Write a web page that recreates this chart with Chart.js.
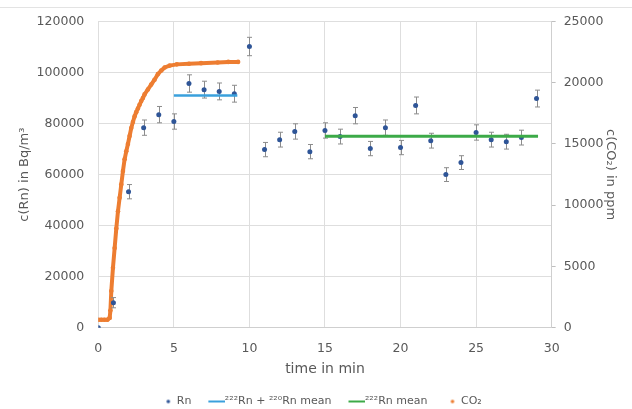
<!DOCTYPE html>
<html>
<head>
<meta charset="utf-8">
<script src="https://cdn.jsdelivr.net/npm/chart.js@4/dist/chart.umd.min.js"></script>
<style>
  body { margin: 0; background: #fff; }
  #wrap { position: relative; width: 632px; height: 409px; }
  #frame { position: absolute; left: 0; right: 0; top: 7px; height: 1px; background: #e3e3e3; }
</style>
</head>
<body>
<div id="wrap">
  <div id="frame"></div>
  <canvas id="radonChart" width="632" height="409"></canvas>
</div>
<script>
// Rn Messwerte (Bq/m3) mit Fehlerbalken
const rnTime = [0, 1, 2, 3, 4, 5, 6, 7, 8, 9, 10, 11, 12, 13, 14, 15, 16, 17, 18, 19, 20, 21, 22, 23, 24, 25, 26, 27, 28, 29];
const rnValue = [0, 9800, 53300, 78400, 83500, 80800, 95700, 93300, 92600, 91700, 110200, 69800, 73700, 76900, 69000, 77300, 74900, 83100, 70200, 78400, 70600, 87100, 73300, 60000, 64700, 76500, 73700, 72900, 74500, 89800];
const rnError = [0, 2000, 2800, 3000, 3200, 3000, 3400, 3300, 3300, 3300, 3600, 2800, 2900, 3000, 2800, 3000, 2900, 3200, 2800, 3000, 2800, 3300, 2900, 2700, 2700, 3000, 2900, 2900, 2900, 3300];

// Mittelwerte
const meanBothTime = [5, 9.2];
const meanBothValue = [91000, 91000];
const mean222Time = [15, 29.1];
const mean222Value = [75000, 75000];

// CO2 (ppm), rechte Achse
const co2Time = [0, 0.2, 0.4, 0.6, 0.75, 0.8, 0.86, 0.97, 1.08, 1.19, 1.3, 1.41, 1.52, 1.63, 1.74, 1.85, 1.96, 2.07, 2.18, 2.29, 2.4, 2.51, 2.62, 2.73, 2.84, 2.95, 3.06, 3.28, 3.5, 3.72, 3.94, 4.17, 4.39, 4.72, 5.2, 6.0, 6.8, 7.9, 8.6, 9.25];
const co2Value = [650, 650, 650, 650, 800, 1400, 3000, 4900, 6500, 8100, 9500, 10600, 11700, 12800, 13750, 14400, 15000, 15650, 16300, 16800, 17250, 17600, 17900, 18200, 18500, 18750, 19050, 19450, 19850, 20250, 20700, 21000, 21250, 21400, 21500, 21550, 21600, 21650, 21700, 21700];

// Achsen
const xTicks = [0, 5, 10, 15, 20, 25, 30];
const rnTicks = [0, 20000, 40000, 60000, 80000, 100000, 120000];
const co2Ticks = [0, 5000, 10000, 15000, 20000, 25000];

const seriesLabels = ["Rn", "\u00b2\u00b2\u00b2Rn + \u00b2\u00b2\u2070Rn mean", "\u00b2\u00b2\u00b2Rn mean", "CO\u2082"];

const BLUE_DOT = "#2f5597";
const ORANGE = "#ed7d31";
const CYAN = "#3aa0dc";
const GREEN = "#3caa48";
const TEXT = "#595959";
const GRID = "#dedede";
const FONT = "DejaVu Sans";

function zip(xs, ys) {
  return xs.map((x, i) => ({ x, y: ys[i] }));
}

// kleine Symbole fuer die Legende (Punkt rechts im Kasten, Linie nah am Text)
function dotIcon(color, r) {
  const c = document.createElement("canvas");
  c.width = 18; c.height = 8;
  const g = c.getContext("2d");
  g.fillStyle = color;
  g.beginPath(); g.arc(15, 4, r, 0, Math.PI * 2); g.fill();
  return c;
}
function lineIcon(color) {
  const c = document.createElement("canvas");
  c.width = 30; c.height = 4;
  const g = c.getContext("2d");
  g.fillStyle = color;
  g.fillRect(13, 1, 17, 2);
  return c;
}
const legendIcons = [dotIcon(BLUE_DOT, 1.8), lineIcon(CYAN), lineIcon(GREEN), dotIcon(ORANGE, 1.8)];

// Fehlerbalken unter die Rn-Punkte zeichnen
const errorBars = {
  id: "errorBars",
  beforeDatasetDraw(chart, args) {
    if (args.index !== 0) return;
    const x = chart.scales.x, y = chart.scales.y;
    const ctx = chart.ctx;
    ctx.save();
    ctx.strokeStyle = "#8c8c8c";
    ctx.lineWidth = 1;
    rnTime.forEach((t, i) => {
      const e = rnError[i];
      if (!e) return;
      const px = Math.round(x.getPixelForValue(t)) + 0.5;
      const top = y.getPixelForValue(rnValue[i] + e);
      const bot = y.getPixelForValue(rnValue[i] - e);
      ctx.beginPath();
      ctx.moveTo(px, top); ctx.lineTo(px, bot);
      ctx.moveTo(px - 2.5, top); ctx.lineTo(px + 2.5, top);
      ctx.moveTo(px - 2.5, bot); ctx.lineTo(px + 2.5, bot);
      ctx.stroke();
    });
    ctx.restore();
  }
};

const tickFont = { family: FONT, size: 12.5 };
const plain = v => String(v);

const chart = new Chart(document.getElementById("radonChart"), {
  type: "scatter",
  data: {
    datasets: [
      {
        label: seriesLabels[0],
        data: zip(rnTime, rnValue),
        yAxisID: "y",
        backgroundColor: BLUE_DOT,
        borderColor: BLUE_DOT,
        pointRadius: 2.5,
        pointBorderWidth: 0,
        order: 1,
      },
      {
        label: seriesLabels[1],
        data: zip(meanBothTime, meanBothValue),
        yAxisID: "y",
        showLine: true,
        borderColor: CYAN,
        borderWidth: 2.5,
        pointRadius: 0,
        order: 0,
      },
      {
        label: seriesLabels[2],
        data: zip(mean222Time, mean222Value),
        yAxisID: "y",
        showLine: true,
        borderColor: GREEN,
        borderWidth: 3,
        pointRadius: 0,
        order: 0,
      },
      {
        label: seriesLabels[3],
        data: zip(co2Time, co2Value),
        yAxisID: "y2",
        showLine: true,
        borderColor: ORANGE,
        backgroundColor: ORANGE,
        borderWidth: 4,
        pointRadius: 2.3,
        pointBorderWidth: 0,
        order: 2,
      },
    ]
  },
  options: {
    responsive: false,
    animation: false,
    devicePixelRatio: 1,
    layout: { padding: { left: 17, right: 14, top: 12, bottom: -8 } },
    scales: {
      x: {
        type: "linear",
        min: 0, max: 30,
        afterBuildTicks: s => { s.ticks = xTicks.map(v => ({ value: v })); },
        grid: { color: GRID, drawTicks: false },
        border: { color: "#cfcfcf" },
        ticks: { color: TEXT, font: tickFont, padding: 13.5, callback: plain },
        title: { display: true, text: "time in min", color: TEXT, font: { family: FONT, size: 14 }, padding: { top: -9, bottom: 8.5 } },
      },
      y: {
        position: "left",
        min: 0, max: 120000,
        afterBuildTicks: s => { s.ticks = rnTicks.map(v => ({ value: v })); },
        grid: { color: GRID, drawTicks: false },
        border: { display: false },
        ticks: { color: TEXT, font: tickFont, padding: 14, callback: plain },
        title: { display: true, text: "c(Rn) in Bq/m\u00b3", color: TEXT, font: { family: FONT, size: 13 }, padding: { top: 0, bottom: -10 } },
      },
      y2: {
        position: "right",
        min: 0, max: 25000,
        afterBuildTicks: s => { s.ticks = co2Ticks.map(v => ({ value: v })); },
        grid: { drawOnChartArea: false, color: "#bfbfbf", tickLength: 4 },
        border: { color: "#cfcfcf" },
        ticks: { color: TEXT, font: tickFont, padding: 8, callback: plain },
        title: { display: true, text: "c(CO\u2082) in ppm", color: TEXT, font: { family: FONT, size: 13 }, padding: { top: 0, bottom: -9 } },
      },
    },
    plugins: {
      tooltip: { enabled: false },
      legend: {
        position: "bottom",
        labels: {
          usePointStyle: true,
          pointStyleWidth: 18,
          color: TEXT,
          font: { family: FONT, size: 11 },
          padding: 10,
          generateLabels: ch => ch.data.datasets.map((ds, i) => ({
            text: ds.label,
            datasetIndex: i,
            pointStyle: legendIcons[i],
            fillStyle: "transparent",
            strokeStyle: "transparent",
            lineWidth: 0,
            fontColor: TEXT,
            hidden: false,
          })),
        }
      }
    }
  },
  plugins: [errorBars]
});
</script>
</body>
</html>
